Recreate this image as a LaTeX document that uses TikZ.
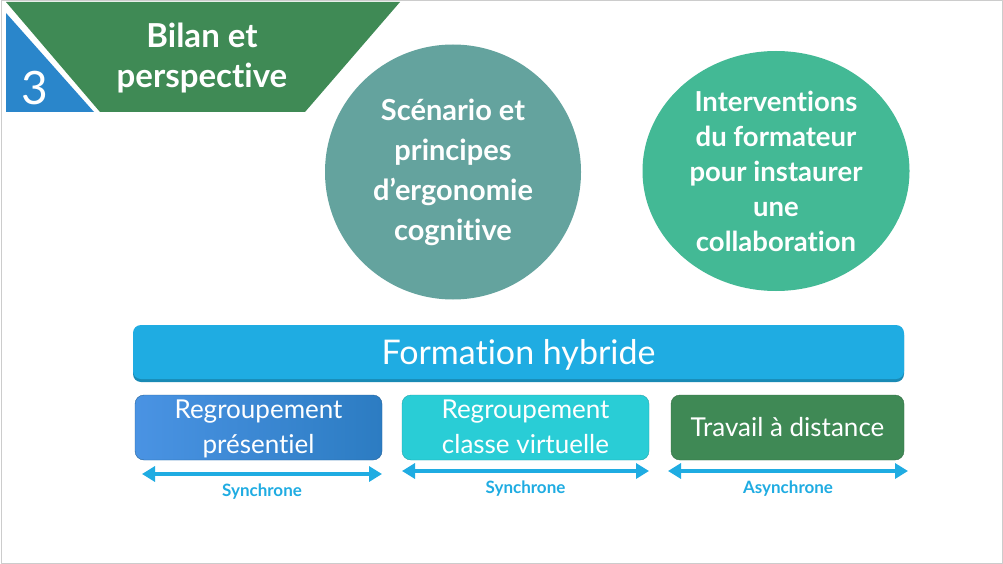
\documentclass[tikz,border=0pt]{standalone}
\usepackage{fontspec}
\setmainfont{Lato}[Ligatures={NoCommon}]
\usepackage{tikz}
\usetikzlibrary{arrows.meta, calc, positioning, shapes.geometric}

\begin{document}
\begin{tikzpicture}[x=1pt, y=-1pt, line join=round, >=Triangle]

  % Colors
  \definecolor{titleGreen}{HTML}{3F8A55}
  \definecolor{numBlue}{HTML}{2A86CB}
  \definecolor{circA}{HTML}{64A39E}
  \definecolor{circB}{HTML}{43B995}
  \definecolor{barBlue}{HTML}{1FACE2}
  \definecolor{boxBlueA}{HTML}{4A93E3}
  \definecolor{boxBlueB}{HTML}{2C7CC2}
  \definecolor{boxCyan}{HTML}{29CDD6}
  \definecolor{boxGreen}{HTML}{3F8955}

  \tikzset{
    bubble/.style={ellipse, text=white, font=\bfseries\fontsize{29}{40}\selectfont, align=center, inner sep=0pt},
    modbox/.style={rounded corners=9pt, minimum width=247pt, minimum height=65pt, text=white,
                   align=center, font=\fontsize{26}{35}\selectfont, inner sep=0pt, text depth=1pt},
    span/.style={{Triangle[width=15pt,length=13pt]}-{Triangle[width=15pt,length=13pt]}, line width=4pt, barBlue},
    spanlabel/.style={text=barBlue, font=\bfseries\fontsize{17}{19}\selectfont}
  }

  \useasboundingbox (0,0) rectangle (1003,564);
  \fill[white] (0,0) rectangle (1003,564);
  \draw[black!20, line width=1pt] (1,1) rectangle (1002,563);

  % Title banner
  \fill[titleGreen] (6,2) -- (400,2) -- (305,112) -- (100,112) -- cycle;
  \fill[numBlue] (6,13) -- (6,112) -- (94,112) -- cycle;
  \node[text=white, font=\fontsize{46}{46}\selectfont] (num) at (35,88) {3};
  \node[text=white, font=\bfseries\fontsize{33}{40}\selectfont, align=center] (title) at (202,58)
    {Bilan et\\perspective};

  % Two themes
  \node[bubble, fill=circA, minimum width=256pt, minimum height=255pt] (scen) at (453,172)
    {Scénario et\\principes\\d’ergonomie\\cognitive};
  \node[bubble, fill=circB, minimum width=267pt, minimum height=240pt,
        font=\bfseries\fontsize{27.5}{35}\selectfont] (interv) at (776,171)
    {Interventions\\du formateur\\pour instaurer\\une\\collaboration};

  % Hybrid training bar
  \fill[barBlue!80!black, rounded corners=8pt] (133,327) rectangle (904,382);
  \node[fill=barBlue, rounded corners=8pt, minimum width=771pt, minimum height=54pt, inner sep=0pt,
        text depth=1pt, text=white, font=\fontsize{34}{34}\selectfont] (hyb) at (518.5,352) {Formation hybride};

  % Modalities
  \node[modbox, left color=boxBlueA, right color=boxBlueB, draw=boxBlueB!80!black] (pres) at (258.5,427.5)
    {Regroupement\\présentiel};
  \node[modbox, fill=boxCyan, draw=boxCyan!80!black] (virt) at (525.5,427.5)
    {Regroupement\\classe virtuelle};
  \node[modbox, fill=boxGreen, draw=boxGreen!80!black, minimum width=233pt] (dist) at (787.5,427.5)
    {Travail à distance};

  % Time spans
  \coordinate (s1a) at (142,474);
  \coordinate (s1b) at (382,474);
  \coordinate (s2a) at (402,471);
  \coordinate (s2b) at (649,471);
  \coordinate (s3a) at (668,471);
  \coordinate (s3b) at (908,471);
  \draw[span] (s1a) -- (s1b) node[midway, below=5pt, spanlabel] (l1) {Synchrone};
  \draw[span] (s2a) -- (s2b) node[midway, below=5pt, spanlabel] (l2) {Synchrone};
  \draw[span] (s3a) -- (s3b) node[midway, below=5pt, spanlabel] (l3) {Asynchrone};

\end{tikzpicture}
\end{document}
